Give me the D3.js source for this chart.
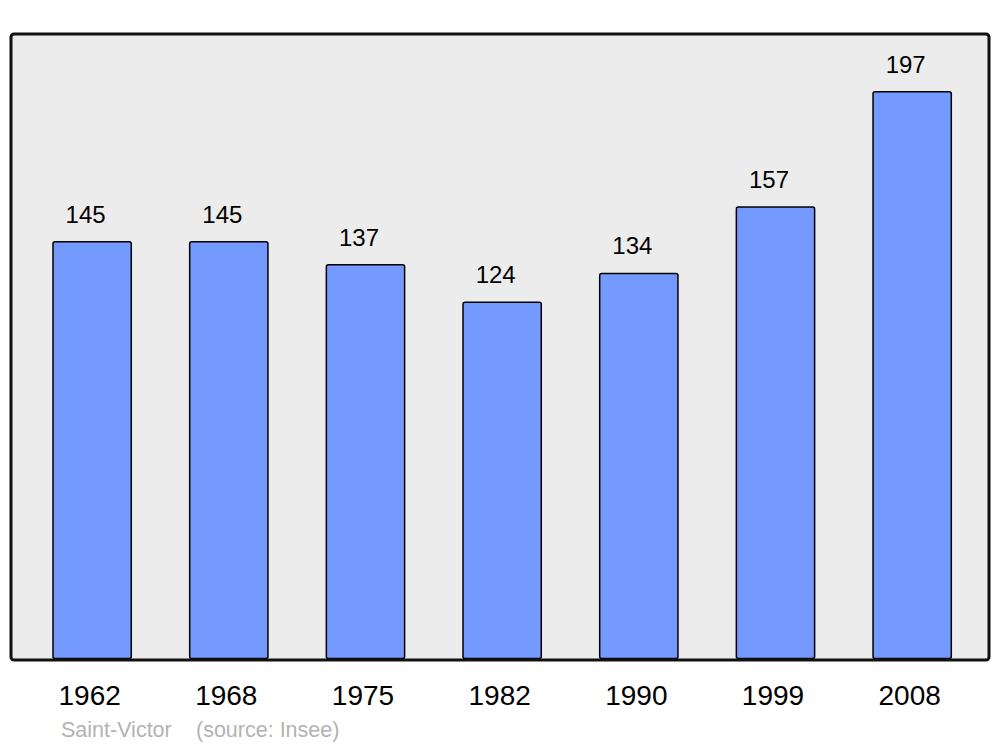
<!DOCTYPE html>
<html>
<head>
<meta charset="utf-8">
<script src="https://cdn.jsdelivr.net/npm/d3@7"></script>
<style>
  body { margin: 0; background: #fff; }
  text { font-family: "Liberation Sans", Arial, sans-serif; }
</style>
</head>
<body>
<svg id="chart" width="1000" height="747"></svg>
<script>
// donnees
var years = ["1962", "1968", "1975", "1982", "1990", "1999", "2008"];
var population = [145, 145, 137, 124, 134, 157, 197];
var commune = "Saint-Victor";
var source = "(source: Insee)";

var svg = d3.select("#chart");

// limites du cadre (pas "top": window.top est en lecture seule)
var frame_left = 11, frame_right = 989, frame_top = 34, frame_bottom = 660;

var x = d3.scaleBand()
    .domain(years)
    .range([24.3, 981])
    .paddingInner(0.42)
    .paddingOuter(0.21);

var y = d3.scaleLinear()
    .domain([0, 217])
    .range([frame_bottom, frame_top]);

// fond du cadre
svg.append("rect")
    .attr("x", frame_left).attr("y", frame_top)
    .attr("width", frame_right - frame_left).attr("height", frame_bottom - frame_top)
    .attr("rx", 3).attr("ry", 3)
    .style("fill", "#ececec");

var data = years.map(function(d, i){ return {year: d, value: population[i]}; });

// barres
svg.selectAll(".bar")
    .data(data)
    .enter()
    .append("rect")
    .attr("class", "bar")
    .attr("x", function(d){ return x(d.year); })
    .attr("y", function(d){ return y(d.value); })
    .attr("width", x.bandwidth() - 1)
    .attr("height", function(d){ return frame_bottom - y(d.value) - 1.5; })
    .attr("rx", 2).attr("ry", 2)
    .style("fill", "#7499ff")
    .style("stroke", "#000")
    .style("stroke-width", 1.5);

// bordure du cadre par dessus
svg.append("rect")
    .attr("x", frame_left).attr("y", frame_top)
    .attr("width", frame_right - frame_left).attr("height", frame_bottom - frame_top)
    .attr("rx", 3).attr("ry", 3)
    .style("fill", "none")
    .style("stroke", "#111")
    .style("stroke-width", 3);

// etiquettes des valeurs
svg.selectAll(".val")
    .data(data)
    .enter()
    .append("text")
    .attr("class", "val")
    .attr("x", function(d){ return x(d.year) + x.bandwidth()/2 - 7; })
    .attr("y", function(d){ return y(d.value) - 19; })
    .attr("text-anchor", "middle")
    .style("font-size", "24px")
    .style("fill", "#000")
    .text(function(d){ return d.value; });

// annees
svg.selectAll(".year")
    .data(data)
    .enter()
    .append("text")
    .attr("class", "year")
    .attr("x", function(d){ return x(d.year) + x.bandwidth()/2 - 3; })
    .attr("y", 705)
    .attr("text-anchor", "middle")
    .style("font-size", "28px")
    .style("fill", "#000")
    .text(function(d){ return d.year; });

// source
svg.append("text")
    .attr("x", 61).attr("y", 737)
    .style("font-size", "21.5px")
    .style("fill", "#b3b3b3")
    .text(commune);
svg.append("text")
    .attr("x", 196).attr("y", 737)
    .style("font-size", "21.5px")
    .style("fill", "#b3b3b3")
    .text(source);
</script>
</body>
</html>
